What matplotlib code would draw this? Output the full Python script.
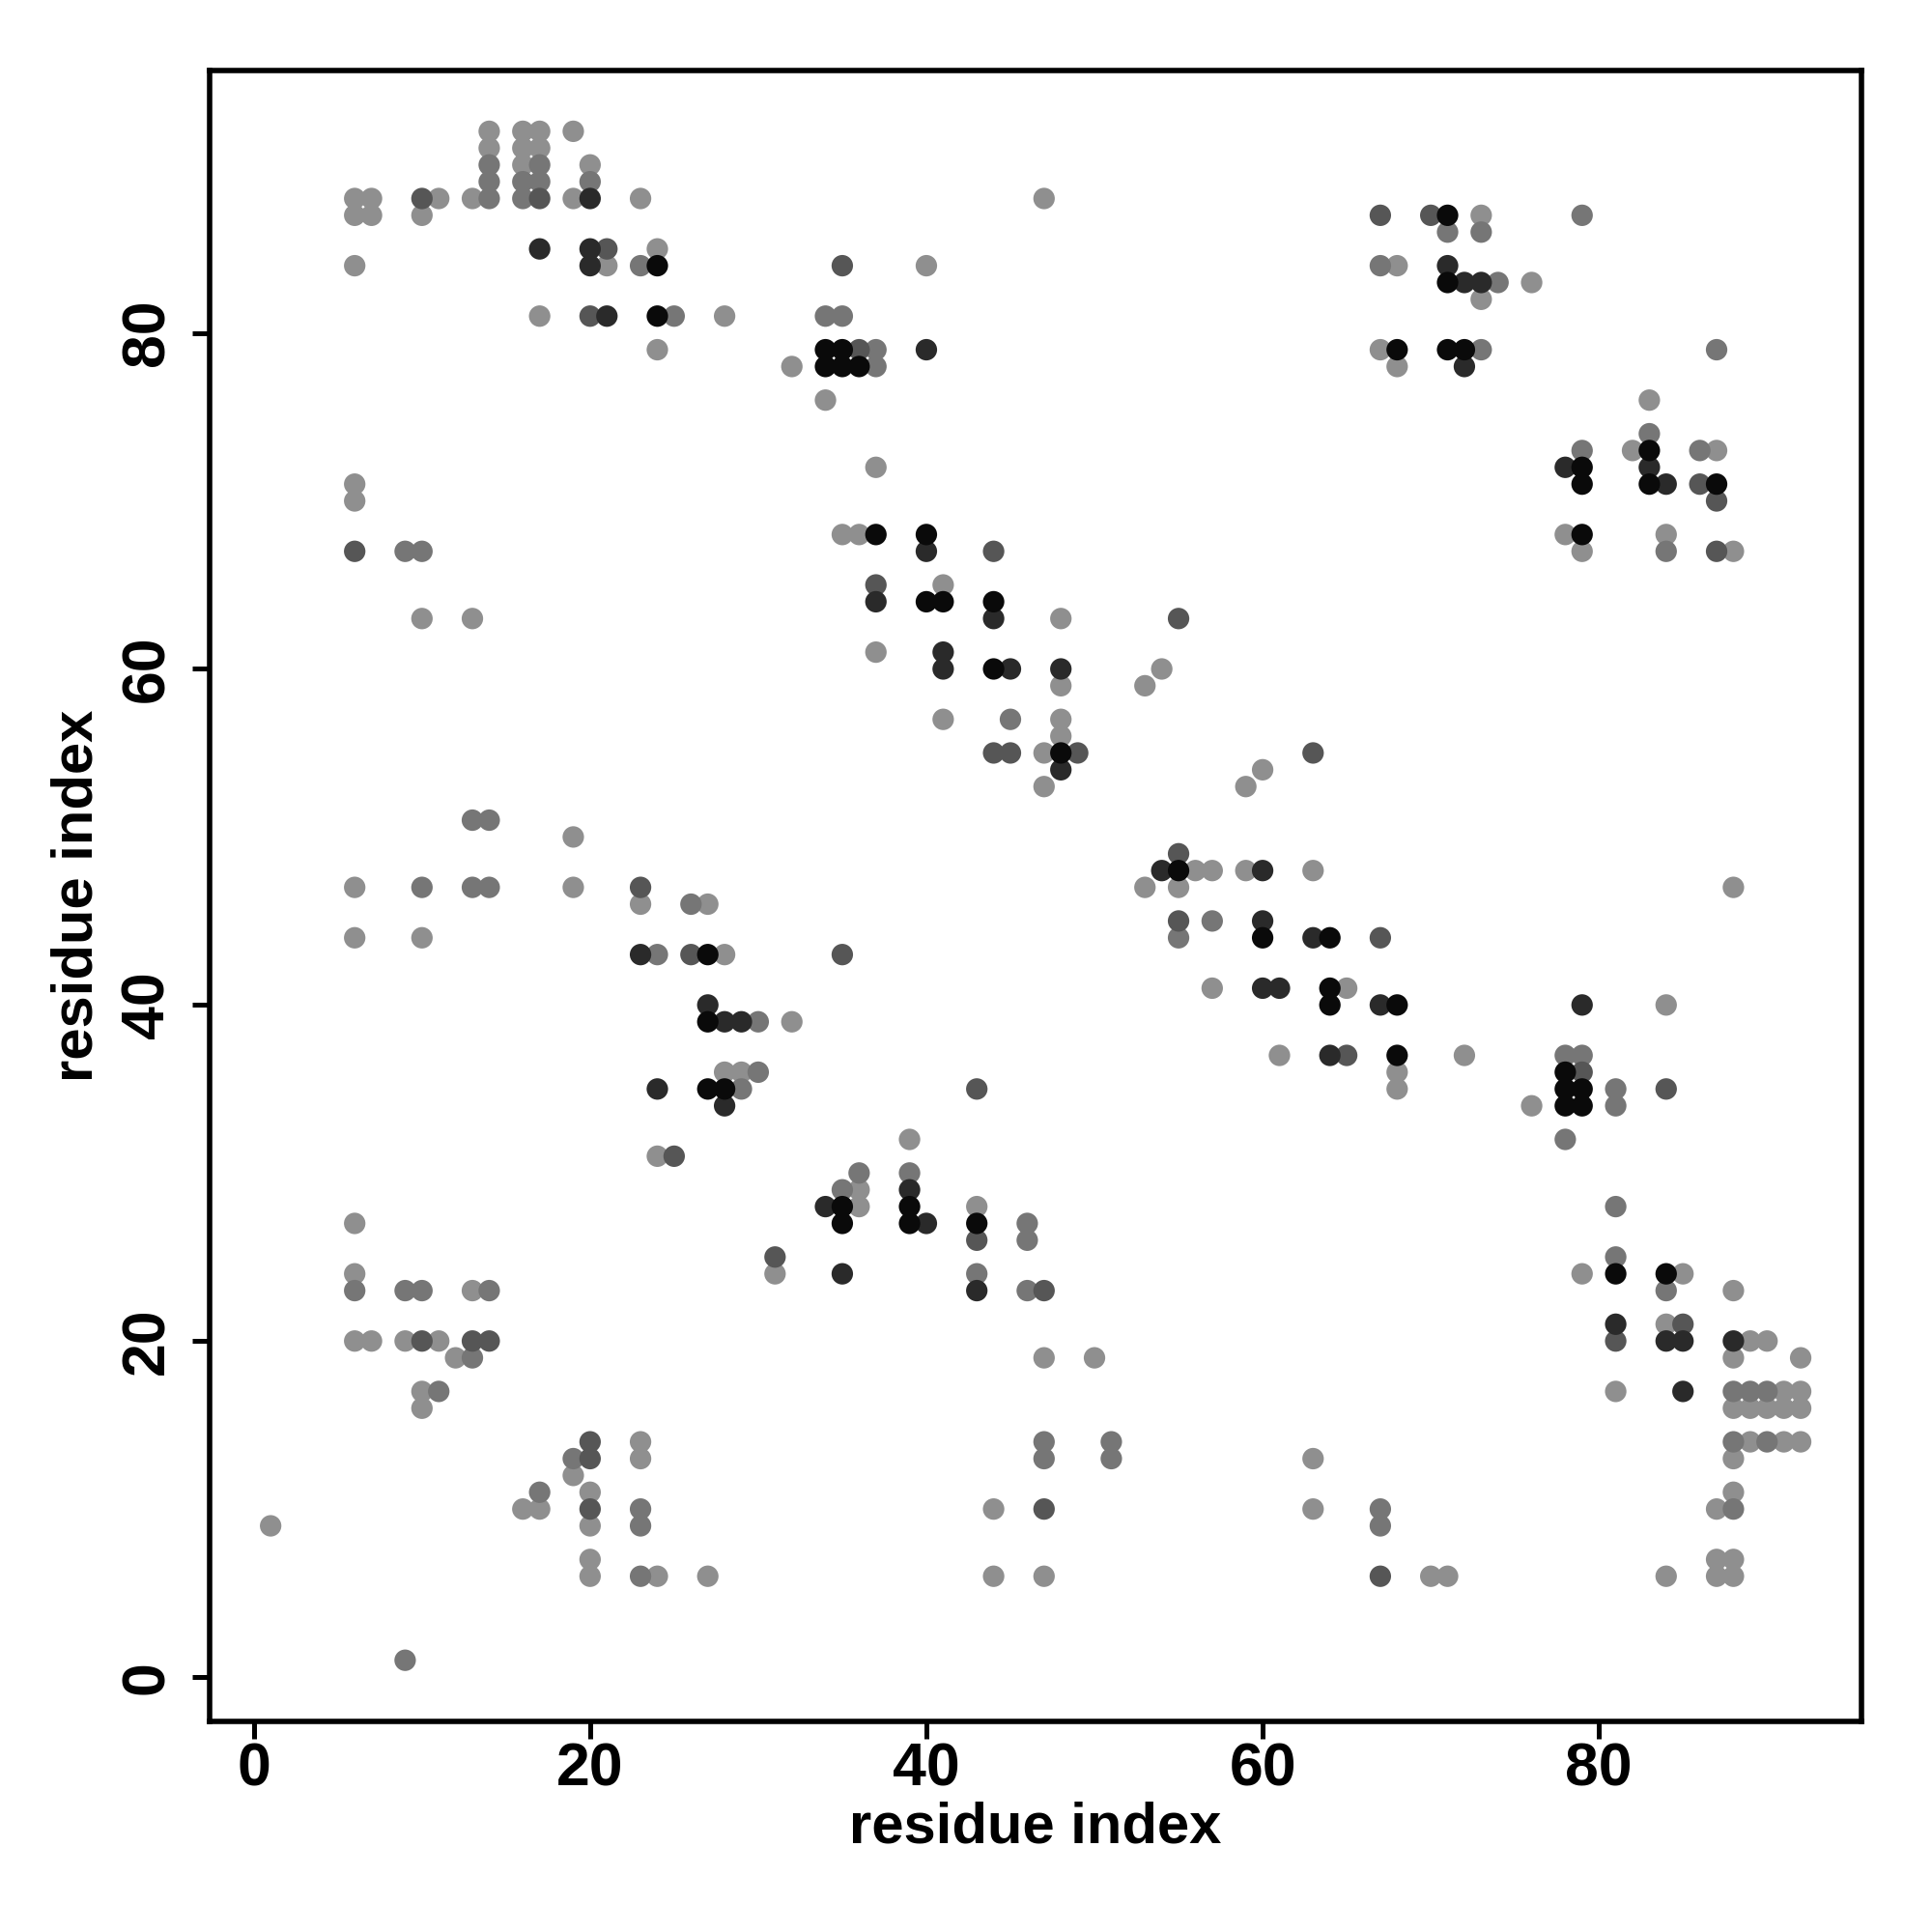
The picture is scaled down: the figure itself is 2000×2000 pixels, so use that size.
import matplotlib
matplotlib.use("Agg")
import matplotlib.pyplot as plt

# Contact map: for each row (residue index j on the y axis) the list of
# residue indices i (x axis) in contact, and the contact strength level
# (1 = weakest / light gray ... 5 = strongest / black).
row_j = [92, 91, 90, 89, 88, 87, 86, 85, 84, 83, 82, 81, 79, 78, 76, 74, 73, 72,
         71, 70, 68, 67, 65, 64, 63, 61, 60, 59, 57, 56, 55, 54, 53, 51, 50, 49,
         48, 47, 46, 45, 44, 43, 41, 40, 39, 37, 36, 35, 34, 32, 31, 30, 29, 28,
         27, 26, 25, 24, 23, 21, 20, 19, 17, 16, 14, 13, 12, 11, 10, 9, 7, 6, 1]

row_i = [
    [14, 16, 17, 19],
    [14, 16, 17],
    [14, 16, 17, 20],
    [14, 16, 17, 20],
    [6, 7, 10, 11, 13, 14, 16, 17, 19, 20, 23, 47],
    [6, 7, 10, 67, 70, 71, 73, 79],
    [71, 73],
    [17, 20, 21, 24],
    [6, 20, 21, 23, 24, 35, 40, 67, 68, 71],
    [71, 72, 73, 74, 76],
    [73],
    [17, 20, 21, 24, 25, 28, 34, 35],
    [24, 34, 35, 36, 37, 40, 67, 68, 71, 72, 73, 87],
    [32, 34, 35, 36, 37, 68, 72],
    [34, 83],
    [83],
    [79, 82, 83, 86, 87],
    [37, 78, 79, 83],
    [6, 79, 83, 84, 86, 87],
    [6, 87],
    [35, 36, 37, 40, 78, 79, 84],
    [6, 9, 10, 40, 44, 79, 84, 87, 88],
    [37, 41],
    [37, 40, 41, 44],
    [10, 13, 44, 48, 55],
    [37, 41],
    [41, 44, 45, 48, 54],
    [48, 53],
    [41, 45, 48],
    [48],
    [44, 45, 47, 48, 49, 63],
    [48, 60],
    [47, 59],
    [13, 14],
    [19],
    [55],
    [54, 55, 56, 57, 59, 60, 63],
    [6, 10, 13, 14, 19, 23, 53, 55, 88],
    [23, 26, 27],
    [55, 57, 60],
    [6, 10, 55, 60, 63, 64, 67],
    [23, 24, 26, 27, 28, 35],
    [57, 60, 61, 64, 65],
    [27, 64, 67, 68, 79, 84],
    [27, 28, 29, 30, 32],
    [61, 64, 65, 68, 72, 78, 79],
    [28, 29, 30, 68, 78, 79],
    [24, 27, 28, 29, 43, 68, 78, 79, 81, 84],
    [28, 76, 78, 79, 81],
    [39, 78],
    [24, 25],
    [36, 39],
    [35, 36, 39],
    [34, 35, 36, 39, 43, 81],
    [6, 35, 39, 40, 43, 46],
    [43, 46],
    [31, 81],
    [6, 31, 35, 43, 79, 81, 84, 85],
    [6, 9, 10, 13, 14, 43, 46, 47, 84, 88],
    [81, 84, 85],
    [6, 7, 9, 10, 11, 13, 14, 81, 84, 85, 88, 89, 90],
    [12, 13, 47, 50, 88, 92],
    [10, 11, 81, 85, 88, 89, 90, 91, 92],
    [10, 88, 89, 90, 91, 92],
    [20, 23, 47, 51, 88, 89, 90, 91, 92],
    [19, 20, 23, 47, 51, 63, 88],
    [19],
    [17, 20, 88],
    [16, 17, 20, 23, 44, 47, 63, 67, 87, 88],
    [1, 20, 23, 67],
    [20, 87, 88],
    [20, 23, 24, 27, 44, 47, 67, 70, 71, 84, 87, 88],
    [9],
]

row_level = [
    [1, 1, 1, 1],
    [1, 1, 1],
    [2, 1, 2, 1],
    [2, 2, 2, 2],
    [1, 1, 3, 1, 1, 2, 2, 3, 1, 4, 1, 1],
    [1, 1, 1, 3, 3, 5, 1, 2],
    [2, 2],
    [4, 4, 3, 1],
    [1, 4, 1, 2, 5, 3, 1, 2, 1, 4],
    [5, 4, 4, 2, 1],
    [1],
    [1, 3, 4, 5, 2, 1, 2, 2],
    [1, 5, 5, 3, 2, 4, 1, 5, 5, 5, 2, 2],
    [1, 5, 5, 5, 2, 1, 4],
    [1, 1],
    [2],
    [2, 1, 5, 2, 1],
    [1, 4, 5, 4],
    [1, 5, 5, 4, 3, 5],
    [1, 3],
    [1, 1, 5, 5, 1, 5, 1],
    [3, 2, 2, 4, 3, 1, 2, 3, 1],
    [3, 1],
    [4, 5, 5, 5],
    [1, 1, 4, 1, 3],
    [1, 4],
    [4, 5, 4, 4, 1],
    [1, 1],
    [1, 2, 1],
    [1],
    [3, 3, 1, 5, 3, 3],
    [4, 1],
    [1, 1],
    [2, 2],
    [1],
    [3],
    [4, 5, 1, 1, 1, 4, 1],
    [1, 2, 2, 2, 1, 3, 1, 1, 1],
    [1, 2, 1],
    [3, 2, 4],
    [1, 1, 2, 5, 4, 5, 3],
    [4, 2, 3, 5, 1, 3],
    [1, 4, 4, 5, 1],
    [4, 5, 4, 5, 4, 1],
    [5, 4, 4, 2, 1],
    [1, 4, 3, 5, 1, 2, 2],
    [1, 1, 2, 1, 5, 3],
    [4, 5, 5, 2, 3, 1, 5, 5, 2, 3],
    [4, 1, 5, 5, 2],
    [1, 2],
    [1, 3],
    [2, 2],
    [2, 1, 4],
    [4, 5, 1, 5, 1, 2],
    [1, 5, 5, 4, 5, 2],
    [3, 2],
    [3, 2],
    [1, 1, 4, 2, 1, 5, 5, 1],
    [2, 2, 2, 1, 2, 4, 2, 3, 2, 1],
    [4, 1, 3],
    [1, 1, 1, 3, 1, 3, 3, 3, 4, 4, 4, 1, 1],
    [1, 2, 1, 1, 1, 1],
    [1, 2, 1, 4, 2, 2, 2, 1, 1],
    [1, 1, 1, 1, 1, 1],
    [3, 1, 2, 2, 2, 1, 2, 1, 1],
    [2, 3, 1, 2, 2, 1, 1],
    [1],
    [2, 1, 1],
    [1, 1, 3, 2, 1, 3, 1, 2, 1, 2],
    [1, 1, 2, 2],
    [1, 1, 1],
    [1, 2, 1, 1, 1, 1, 3, 1, 1, 1, 1, 1],
    [2],
]

x_ticks = [0, 20, 40, 60, 80]
y_ticks = [0, 20, 40, 60, 80]
axis_title = "residue index"

level_gray = {1: "#8f8f8f", 2: "#767676", 3: "#565656", 4: "#2a2a2a", 5: "#0a0a0a"}

# flatten
xs, ys, lv = [], [], []
for j, ii, ll in zip(row_j, row_i, row_level):
    for i, l in zip(ii, ll):
        xs.append(i)
        ys.append(j)
        lv.append(l)

order = sorted(range(len(xs)), key=lambda k: lv[k])
xs = [xs[k] for k in order]
ys = [ys[k] for k in order]
cols = [level_gray[lv[k]] for k in order]

plt.rcParams["font.family"] = ["Liberation Sans", "DejaVu Sans"]
plt.rcParams["font.weight"] = "bold"

fig = plt.figure(figsize=(10, 10), dpi=200)
ax = fig.add_axes([0.1084, 0.109, 0.9637 - 0.1084, 0.9637 - 0.109])
ax.scatter(xs, ys, s=64, c=cols, linewidths=0, zorder=3)

lo = 1 - 0.04 * 91
hi = 92 + 0.04 * 91
ax.set_xlim(lo, hi)
ax.set_ylim(lo, hi)
ax.set_xticks(x_ticks)
ax.set_yticks(y_ticks)
ax.set_xticklabels([str(t) for t in x_ticks], fontsize=22.5, fontweight="bold")
ax.set_yticklabels([str(t) for t in y_ticks], fontsize=22.5, fontweight="bold",
                   rotation=90, va="center")
ax.tick_params(axis="both", direction="out", length=6.5, width=1.8, color="black")
ax.tick_params(axis="x", pad=1)
ax.tick_params(axis="y", pad=6)
for sp in ax.spines.values():
    sp.set_linewidth(2.0)
    sp.set_color("black")

fig.text(0.5358, 1 - 1892 / 2000, axis_title, ha="center", va="center",
         fontsize=21.5, fontweight="bold")
fig.text(80 / 2000, 1 - 927 / 2000, axis_title, ha="center", va="center",
         rotation=90, fontsize=21.5, fontweight="bold")

fig.savefig("out.png", dpi=200, facecolor="white")
